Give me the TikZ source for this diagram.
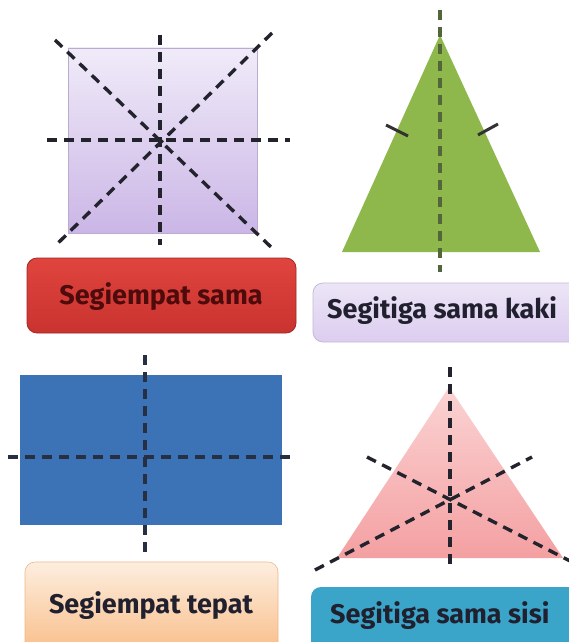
\documentclass[tikz,border=0pt]{standalone}
\usepackage{fontspec}
\setmainfont{Fira Sans}
\begin{document}
\begin{tikzpicture}[x=1pt,y=-1pt,
  axis/.style={line width=3.4pt,dash pattern=on 10pt off 7pt,color=axiscol},
  labtext/.style={font=\bfseries\fontsize{27}{30}\selectfont,inner sep=0pt},
  tick/.style={line width=3pt,color=black!80}]
\definecolor{axiscol}{HTML}{23232E}
\definecolor{sqtop}{HTML}{F0EBF9}
\definecolor{sqbot}{HTML}{CBB6E6}
\definecolor{redtop}{HTML}{E0443E}
\definecolor{redbot}{HTML}{C9332F}
\definecolor{redtxt}{HTML}{4E0B0C}
\definecolor{purtop}{HTML}{ECE5F6}
\definecolor{purbot}{HTML}{DCCDF0}
\definecolor{greentri}{HTML}{8EB84B}
\definecolor{bluerect}{HTML}{3B73B6}
\definecolor{pinktop}{HTML}{FBD3D3}
\definecolor{pinkbot}{HTML}{F4A0A2}
\definecolor{orgtop}{HTML}{FDEEDF}
\definecolor{orgbot}{HTML}{F9BE8A}
\definecolor{teallab}{HTML}{3AA5C9}
\definecolor{darktxt}{HTML}{20202E}

\useasboundingbox (0,0) rectangle (568,642);
\fill[white] (0,0) rectangle (568,642);

% square with its four axes of symmetry
\shade[top color=sqtop,bottom color=sqbot,draw=sqbot!80!gray,line width=0.6pt]
  (68,48) rectangle (257,233);
\coordinate (sqc) at (160,140);
\draw[axis] (160,35) -- (160,245);
\draw[axis] (47,140) -- (290,140);
\draw[axis] (55,40) -- (272,248);
\draw[axis] (272,33) -- (55,246);

% red label
\shade[top color=redtop,bottom color=redbot,draw=redbot!80!black,line width=0.8pt,
  rounded corners=10pt] (27,258) rectangle (296,333);
\node[labtext,text=redtxt] (lab1) at (161,297) {Segiempat sama};

% isosceles triangle
\fill[greentri] (440,35) -- (540,252) -- (342,252) -- cycle;
\draw[axis,color=axiscol!55!greentri] (440,10) -- (440,272);
\draw[tick] (386,125) -- (408,136);
\draw[tick] (478,135) -- (498,124);

% purple label
\shade[top color=purtop,bottom color=purbot,draw=purbot!75!gray,line width=0.8pt,
  rounded corners=10pt] (313,283) rectangle (600,342);
\node[labtext,text=darktxt,anchor=west] (lab2) at (327,311) {Segitiga sama kaki};

% rectangle with its two axes
\fill[bluerect] (20,375) rectangle (282,525);
\draw[axis,color=axiscol!85!bluerect] (145,355) -- (145,553);
\draw[axis,color=axiscol!85!bluerect] (8,457) -- (296,457);

% orange label
\shade[top color=orgtop,bottom color=orgbot,rounded corners=10pt,draw=orgbot!90!gray,line width=0.6pt]
  (25,562) rectangle (278,652);
\node[labtext,text=darktxt] (lab3) at (151,606) {Segiempat tepat};

% equilateral triangle with its three axes
\shade[top color=pinktop,bottom color=pinkbot] (449,387) -- (563,558) -- (337,558) -- cycle;
\coordinate (etc) at (450,503);
\draw[axis] (450,367) -- (450,568);
\draw[axis] (315,570) -- (532,457);
\draw[axis] (367,457) -- (572,562);

% teal label
\fill[teallab,rounded corners=10pt] (311,587) rectangle (600,660);
\node[labtext,text=darktxt,anchor=west] (lab4) at (330,616) {Segitiga sama sisi};
\end{tikzpicture}
\end{document}
